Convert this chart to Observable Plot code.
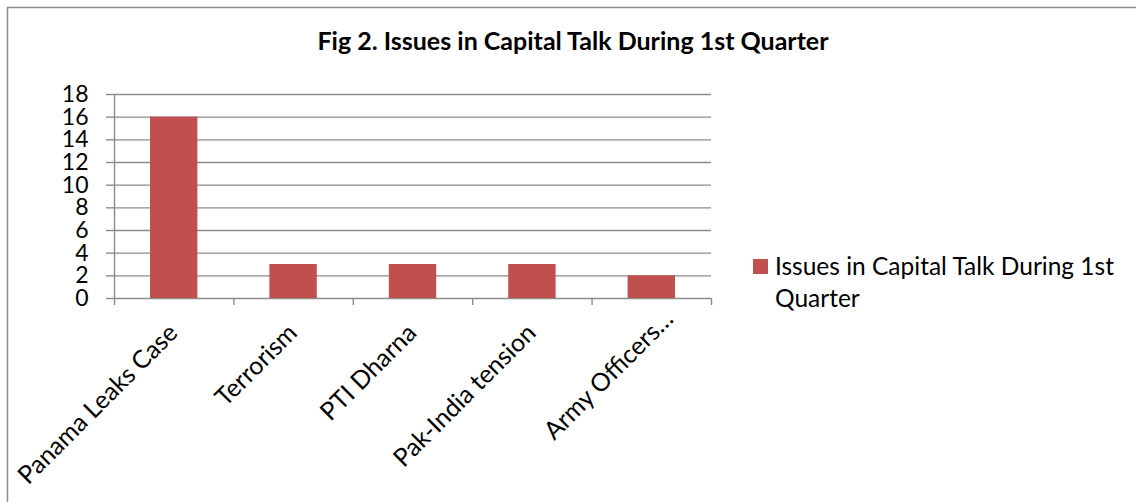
<!DOCTYPE html>
<html>
<head>
<meta charset="utf-8">
<script src="https://cdn.jsdelivr.net/npm/d3@7"></script>
<script src="https://cdn.jsdelivr.net/npm/@observablehq/plot@0.6"></script>
<style>
  html, body { margin: 0; padding: 0; background: #fff; }
  #chart { position: relative; width: 1136px; height: 502px; overflow: hidden; }
</style>
</head>
<body>
<div id="chart"></div>
<script>
// ---- data ----
const chartTitle = "Fig 2. Issues in Capital Talk During 1st Quarter";
const seriesName = ["Issues in Capital Talk During 1st", "Quarter"];
const categories = ["Panama Leaks Case", "Terrorism", "PTI Dharna", "Pak-India tension", "Army Officers…"];
const values = [16, 3, 3, 3, 2];
const yTicks = [0, 2, 4, 6, 8, 10, 12, 14, 16, 18];

// ---- build ----
const data = categories.map((c, i) => ({category: c, i, value: values[i]}));
const boundaries = d3.range(categories.length + 1);
const barColor = "#C0504D";
const lineColor = "#8c8c8c";
const font = "Lato, 'Open Sans', sans-serif";

const labelOpts = {
  frameAnchor: "bottom", rotate: -45, textAnchor: "end", lineAnchor: "bottom",
  fontSize: 25, fill: "#000"
};

const plot = Plot.plot({
  width: 1136,
  height: 502,
  marginLeft: 114,
  marginRight: 425,
  marginTop: 94,
  marginBottom: 204,
  style: {fontFamily: font, fontSize: "23px", color: "#000", background: "transparent", overflow: "visible"},
  x: {type: "linear", domain: [0, categories.length], axis: null, label: null},
  y: {domain: [0, 18], axis: null, label: null},
  marks: [
    Plot.gridY(yTicks, {stroke: lineColor, strokeOpacity: 1, strokeWidth: 1.4}),
    Plot.axisY(yTicks, {tickSize: 8, tickPadding: 18, stroke: lineColor, strokeWidth: 1.4, fill: "#000", fontSize: 23, label: null}),
    Plot.axisX(boundaries, {tickSize: 7, tickFormat: () => "", stroke: lineColor, strokeWidth: 1.4, label: null}),
    Plot.ruleX([0], {y1: 0, y2: 18, stroke: lineColor, strokeWidth: 1.4}),
    Plot.rectY(data, {x1: "i", x2: d => d.i + 1, y: "value", fill: barColor, insetLeft: 36, insetRight: 36}),
    Plot.text(data.slice(0, 4), {x: d => d.i + 0.5, text: "category", dx: 5, dy: 36, ...labelOpts}),
    Plot.text(data.slice(4), {x: d => d.i + 0.5, text: "category", dx: 23, dy: 22, ...labelOpts})
  ]
});

const svg = d3.select(plot);
// outer chart border (top/left visible)
svg.insert("rect", ":first-child")
  .attr("x", 7.5).attr("y", 7.5).attr("width", 1300).attr("height", 700)
  .attr("fill", "#fff").attr("stroke", lineColor).attr("stroke-width", 1.5);
// title
svg.append("text")
  .attr("x", 573).attr("y", 50)
  .attr("text-anchor", "middle")
  .attr("font-family", font).attr("font-weight", "bold").attr("font-size", 25)
  .attr("fill", "#000")
  .text(chartTitle);
// legend
const lg = svg.append("g").attr("text-anchor", "start");
lg.append("rect").attr("x", 753).attr("y", 259).attr("width", 15).attr("height", 15).attr("fill", barColor);
seriesName.forEach((line, k) => {
  lg.append("text")
    .attr("x", 775).attr("y", 275 + k * 32)
    .attr("text-anchor", "start")
    .attr("font-family", font).attr("font-size", 24.5).attr("fill", "#000")
    .text(line);
});

document.getElementById("chart").appendChild(plot);
</script>
</body>
</html>
